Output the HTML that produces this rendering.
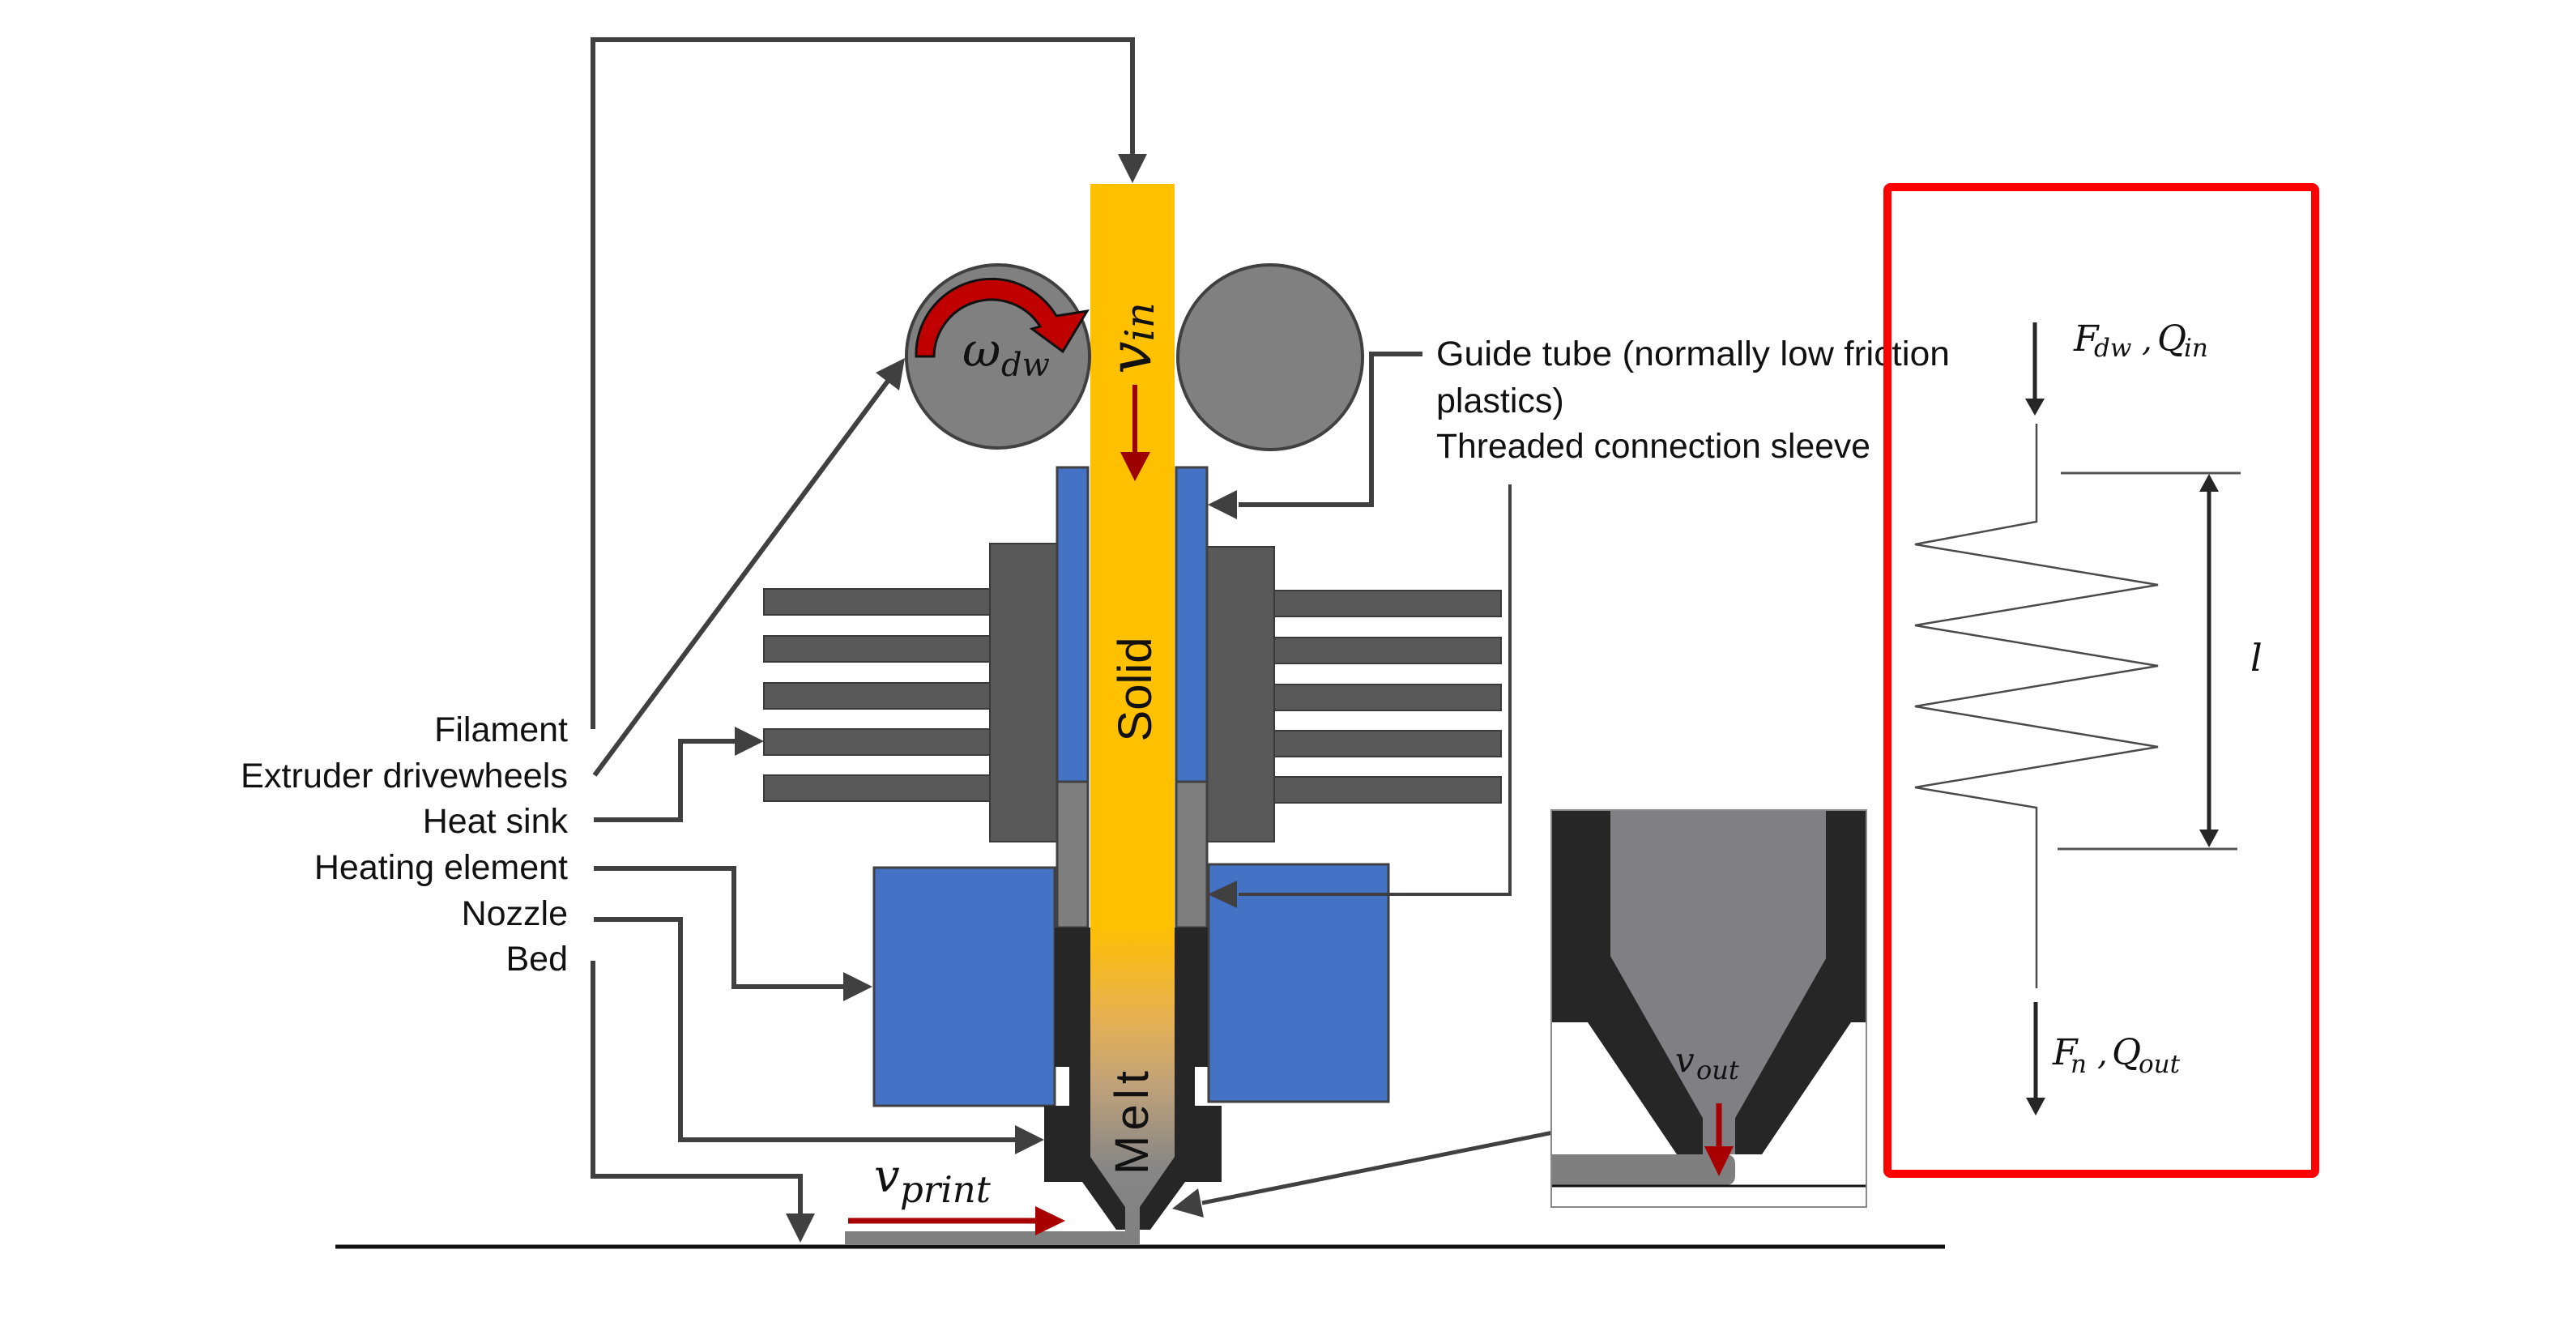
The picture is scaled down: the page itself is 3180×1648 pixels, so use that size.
<!DOCTYPE html>
<html><head><meta charset="utf-8"><style>
html,body{margin:0;padding:0;background:#fff;}
svg{display:block;}
.lbl{font-family:"Liberation Sans",sans-serif;font-size:43px;fill:#111;}
.m{font-family:"DejaVu Serif",serif;font-style:italic;fill:#111;}
.c{stroke:#404040;stroke-width:6;fill:none;stroke-linejoin:miter;stroke-linecap:butt;}
.h{fill:#404040;}
</style></head><body>
<svg width="3180" height="1648" viewBox="0 0 3180 1648" xmlns="http://www.w3.org/2000/svg">
<defs>
<linearGradient id="fg" gradientUnits="userSpaceOnUse" x1="0" y1="227" x2="0" y2="1535">
<stop offset="0" stop-color="#ffc000"/>
<stop offset="0.698" stop-color="#ffc000"/>
<stop offset="0.782" stop-color="#e9b24e"/>
<stop offset="0.851" stop-color="#c0a27a"/>
<stop offset="0.93" stop-color="#868686"/>
<stop offset="1" stop-color="#808080"/>
</linearGradient>
</defs>
<rect width="3180" height="1648" fill="#fff"/>

<!-- connectors -->
<path class="c" d="M732,900 V49 H1398 V192"/>
<polygon class="h" points="1380,190 1416,190 1398,226"/>
<path class="c" d="M734,957 L1097,469"/>
<polygon class="h" points="1117,442 1110,482 1081,460"/>
<path class="c" d="M733,1012 H840 V915 H909"/>
<polygon class="h" points="907,897 943,915 907,933"/>
<path class="c" d="M733,1072 H906 V1218 H1043"/>
<polygon class="h" points="1041,1200 1077,1218 1041,1236"/>
<path class="c" d="M733,1135 H840 V1407 H1255"/>
<polygon class="h" points="1253,1389 1289,1407 1253,1425"/>
<path class="c" d="M732,1186 V1452 H988 V1500"/>
<polygon class="h" points="970,1498 1006,1498 988,1534"/>
<path class="c" d="M1756,437 H1693 V623 H1529"/>
<polygon class="h" points="1527,605 1491,623 1527,641"/>
<path class="c" style="stroke-width:5" d="M2022,1377 L1484,1485"/>
<polygon class="h" points="1447,1492 1486,1503 1479,1467"/>

<!-- heat sink -->
<g fill="#595959" stroke="#3a3a3a" stroke-width="2">
<rect x="943" y="727" width="285" height="32"/>
<rect x="943" y="785" width="285" height="32"/>
<rect x="943" y="843" width="285" height="32"/>
<rect x="943" y="900" width="285" height="32"/>
<rect x="943" y="957" width="285" height="32"/>
<rect x="1568" y="729" width="285" height="32"/>
<rect x="1568" y="787" width="285" height="32"/>
<rect x="1568" y="845" width="285" height="32"/>
<rect x="1568" y="902" width="285" height="32"/>
<rect x="1568" y="959" width="285" height="32"/>
</g>
<rect x="1222" y="671" width="84" height="368" fill="#595959" stroke="#3a3a3a" stroke-width="2"/>
<rect x="1488" y="675" width="85" height="364" fill="#595959" stroke="#3a3a3a" stroke-width="2"/>

<!-- heaters -->
<rect x="1079" y="1071" width="223" height="294" fill="#4472c4" stroke="#404040" stroke-width="3"/>
<rect x="1492" y="1067" width="222" height="293" fill="#4472c4" stroke="#404040" stroke-width="3"/>

<!-- sleeves -->
<g stroke="#404040" stroke-width="3">
<rect x="1305" y="577" width="38" height="388" fill="#4472c4"/>
<rect x="1452" y="577" width="38" height="388" fill="#4472c4"/>
<rect x="1305" y="965" width="38" height="180" fill="#7f7f7f"/>
<rect x="1452" y="965" width="38" height="180" fill="#7f7f7f"/>
</g>

<!-- threaded sleeve connector (on top of heater) -->
<path class="c" style="stroke-width:4" d="M1864,598 V1104 H1529"/>
<polygon class="h" points="1527,1087 1491,1104 1527,1121"/>

<!-- nozzle -->
<polygon fill="#262626" points="1302,1145 1491,1145 1491,1317 1475,1317 1475,1365 1508,1365 1508,1459 1463,1459 1420,1518 1378,1518 1336,1459 1289,1459 1289,1365 1320,1365 1320,1317 1302,1317"/>

<!-- trace -->
<rect x="1043" y="1520" width="364" height="16" fill="#808080"/>

<!-- filament -->
<polygon fill="url(#fg)" points="1346,227 1450,227 1450,1428 1407,1490 1407,1536 1389,1536 1389,1490 1346,1428"/>

<!-- bed -->
<line x1="414" y1="1539" x2="2401" y2="1539" stroke="#111" stroke-width="5"/>

<!-- wheels -->
<circle cx="1232" cy="440" r="113" fill="#808080" stroke="#404040" stroke-width="4"/>
<circle cx="1568" cy="441" r="114" fill="#808080" stroke="#404040" stroke-width="4"/>
<path d="M1131,440 A93,93 0 0,1 1304,390 L1342,384 L1312,434 L1274,406 L1284,403 A71,71 0 0,0 1153,440 Z" fill="#c00000" stroke="#111" stroke-width="3" stroke-linejoin="miter"/>
<text class="m" x="1188" y="452" font-size="58">ω</text>
<text class="m" x="1236" y="464" font-size="40">dw</text>

<!-- v_in -->
<text class="m" transform="translate(1420,462) rotate(-90)"><tspan font-size="72">v</tspan><tspan font-size="50" dy="4">in</tspan></text>
<line x1="1401" y1="475" x2="1401" y2="560" stroke="#9c0000" stroke-width="6"/>
<polygon fill="#9c0000" points="1383,558 1420,558 1401,594"/>

<text transform="translate(1421,851) rotate(-90)" text-anchor="middle" font-family="Liberation Sans, sans-serif" font-size="58" fill="#111">Solid</text>
<text transform="translate(1417,1386) rotate(-90)" text-anchor="middle" font-family="Liberation Sans, sans-serif" font-size="58" fill="#111" textLength="128" lengthAdjust="spacing">Melt</text>

<!-- v_print -->
<text class="m" x="1079" y="1471" font-size="56">v</text>
<text class="m" x="1111" y="1484" font-size="45">print</text>
<line x1="1047" y1="1507" x2="1280" y2="1507" stroke="#a80000" stroke-width="7"/>
<polygon fill="#a80000" points="1278,1489 1315,1507 1278,1525"/>

<!-- left labels -->
<g class="lbl" text-anchor="end">
<text x="701" y="915">Filament</text>
<text x="701" y="972" textLength="404" lengthAdjust="spacingAndGlyphs">Extruder drivewheels</text>
<text x="701" y="1028">Heat sink</text>
<text x="701" y="1085">Heating element</text>
<text x="701" y="1142">Nozzle</text>
<text x="701" y="1198">Bed</text>
</g>
<!-- right labels -->
<g class="lbl">
<text x="1773" y="451" textLength="634" lengthAdjust="spacingAndGlyphs">Guide tube (normally low friction</text>
<text x="1773" y="509">plastics)</text>
<text x="1773" y="565" textLength="536" lengthAdjust="spacingAndGlyphs">Threaded connection sleeve</text>
</g>

<!-- inset -->
<rect x="1915" y="1000" width="389" height="490" fill="#fff" stroke="#888" stroke-width="2"/>
<polygon fill="#7f7f84" points="1988,1000 2254,1000 2254,1183 2142,1380 2142,1425 2102,1425 2102,1380 1988,1180"/>
<path d="M1916,1425 H2130 Q2142,1425 2142,1437 V1451 Q2142,1463 2130,1463 H1916 Z" fill="#7f7f7f"/>
<polygon fill="#262626" points="1915,1000 1988,1000 1988,1180 2102,1380 2102,1425 2070,1425 1960,1262 1915,1262"/>
<polygon fill="#262626" points="2254,1000 2304,1000 2304,1262 2285,1262 2175,1425 2142,1425 2142,1380 2254,1183"/>
<line x1="1915" y1="1464" x2="2304" y2="1464" stroke="#111" stroke-width="3"/>
<rect x="1915" y="1000" width="389" height="490" fill="none" stroke="#888" stroke-width="2"/>
<text class="m" x="2068" y="1323" font-size="42">v</text>
<text class="m" x="2094" y="1332" font-size="32">out</text>
<line x1="2122" y1="1362" x2="2122" y2="1417" stroke="#a80000" stroke-width="7"/>
<polygon fill="#a80000" points="2104,1415 2140,1415 2122,1452"/>

<!-- red box content -->
<line x1="2512" y1="398" x2="2512" y2="494" stroke="#262626" stroke-width="5"/>
<polygon fill="#262626" points="2500,492 2524,492 2512,513"/>
<text class="m" x="2560" y="433" font-size="44">F</text>
<text class="m" x="2585" y="440" font-size="31">dw</text>
<text class="m" x="2644" y="433" font-size="40">,</text>
<text class="m" x="2663" y="433" font-size="44">Q</text>
<text class="m" x="2696" y="440" font-size="31">in</text>

<polyline points="2514,523 2514,644 2364,672 2664,722 2364,772 2664,822 2364,872 2664,922 2364,972 2514,997 2514,1220" fill="none" stroke="#4a4a4a" stroke-width="2.5" stroke-linejoin="miter"/>
<line x1="2544" y1="584" x2="2766" y2="584" stroke="#555" stroke-width="3"/>
<line x1="2540" y1="1048" x2="2762" y2="1048" stroke="#555" stroke-width="3"/>
<line x1="2727" y1="604" x2="2727" y2="1026" stroke="#262626" stroke-width="5"/>
<polygon fill="#262626" points="2727,585 2739,607 2715,607"/>
<polygon fill="#262626" points="2727,1046 2739,1024 2715,1024"/>
<text class="m" x="2778" y="828" font-size="46">l</text>

<line x1="2513" y1="1237" x2="2513" y2="1357" stroke="#262626" stroke-width="5"/>
<polygon fill="#262626" points="2501,1355 2525,1355 2513,1377"/>
<text class="m" x="2534" y="1314" font-size="44">F</text>
<text class="m" x="2556" y="1324" font-size="31">n</text>
<text class="m" x="2589" y="1314" font-size="40">,</text>
<text class="m" x="2607" y="1314" font-size="44">Q</text>
<text class="m" x="2640" y="1324" font-size="31">out</text>

<rect x="2330" y="231" width="528" height="1218" rx="4" fill="none" stroke="#ff0000" stroke-width="10"/>
</svg>
</body></html>
